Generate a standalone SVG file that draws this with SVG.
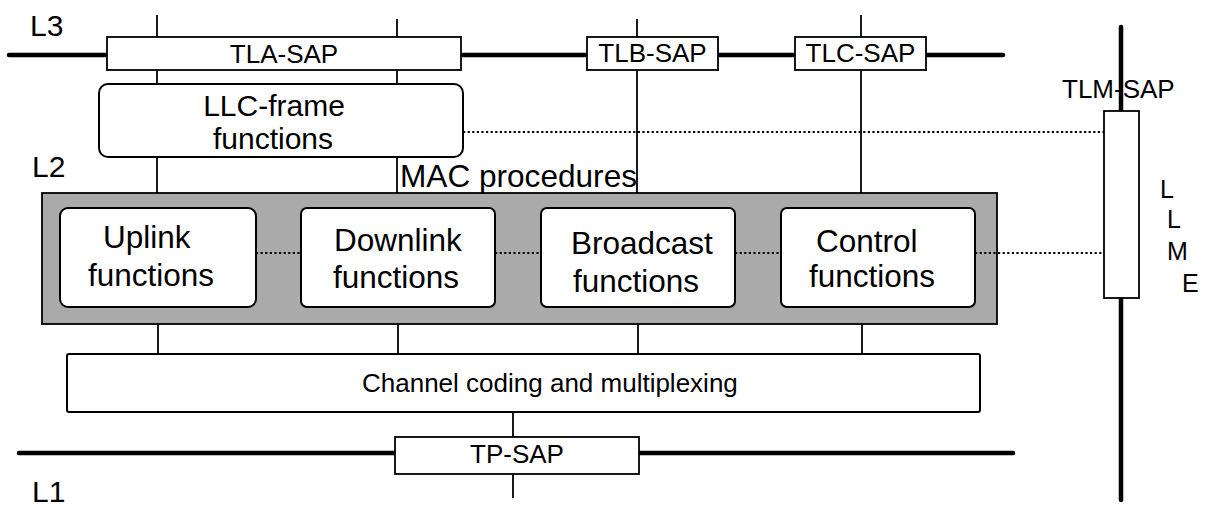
<svg xmlns="http://www.w3.org/2000/svg" width="1210" height="506" viewBox="0 0 1210 506">
<style>
text{font-family:"Liberation Sans",Arial,sans-serif;fill:#000}
.lbl{font-size:30px}
.big{font-size:31.5px}
.llc{font-size:30px;text-anchor:middle}
.sap{font-size:26px;text-anchor:middle}
.thick{stroke:#000;stroke-width:4.5;stroke-linecap:round;fill:none}
.thin{stroke:#000;stroke-width:1.8;fill:none}
.dot{stroke:#000;stroke-width:2.2;stroke-dasharray:2.2 2.4;fill:none}
.box{fill:#fff;stroke:#000;stroke-width:1.8}
.rbox{fill:#fff;stroke:#000;stroke-width:2}
</style>
<rect width="1210" height="506" fill="#fff"/>
<g id="connectors">
<line class="thin" x1="157" y1="15" x2="157" y2="208"/>
<line class="thin" x1="397" y1="19" x2="397" y2="208"/>
<line class="thin" x1="637" y1="19" x2="637" y2="208"/>
<line class="thin" x1="861" y1="15" x2="861" y2="208"/>
<line class="thin" x1="158" y1="307" x2="158" y2="354"/>
<line class="thin" x1="398" y1="307" x2="398" y2="354"/>
<line class="thin" x1="638" y1="307" x2="638" y2="354"/>
<line class="thin" x1="862" y1="307" x2="862" y2="354"/>
<line class="thin" x1="513" y1="412" x2="513" y2="498"/>
<line class="thick" x1="9" y1="55" x2="1003" y2="55"/>
<line class="thick" x1="19" y1="453" x2="1013" y2="453"/>
<line class="thick" x1="1121" y1="27" x2="1121" y2="500"/>
<line class="dot" x1="463" y1="132" x2="1104" y2="132"/>
</g>
<g id="layer-labels">
<text class="lbl" x="30" y="36">L3</text>
<text class="lbl" x="32" y="177">L2</text>
<text class="lbl" x="32" y="502">L1</text>
</g>
<g id="tla-sap"><rect class="box" x="107" y="37" width="354" height="33"/><text class="sap" x="284" y="63">TLA-SAP</text></g>
<g id="tlb-sap"><rect class="box" x="587" y="37" width="131" height="33"/><text class="sap" x="652.5" y="62">TLB-SAP</text></g>
<g id="tlc-sap"><rect class="box" x="795" y="37" width="131" height="33"/><text class="sap" x="860.5" y="62">TLC-SAP</text></g>
<g id="llc-frame"><rect class="rbox" x="99" y="84" width="364" height="73" rx="9"/><text class="llc" x="274" y="116">LLC-frame</text><text class="llc" x="273" y="149">functions</text></g>
<g id="mac">
<rect x="42" y="193" width="955" height="131" fill="#aaaaaa" stroke="#000" stroke-width="1.8"/>
<text class="big" x="400" y="187" textLength="237" lengthAdjust="spacingAndGlyphs">MAC procedures</text>
</g>
<g id="connectors-dotted">
<line class="dot" x1="256" y1="253" x2="301" y2="253"/>
<line class="dot" x1="495" y1="253" x2="541" y2="253"/>
<line class="dot" x1="735" y1="253" x2="781" y2="253"/>
<line class="dot" x1="975" y1="253" x2="1104" y2="253"/>
</g>
<g id="uplink"><rect class="rbox" x="60" y="208" width="196" height="99" rx="8"/><text class="big" x="103" y="248">Uplink</text><text class="big" x="88" y="286">functions</text></g>
<g id="downlink"><rect class="rbox" x="301" y="208" width="194" height="99" rx="6"/><text class="big" x="334" y="251">Downlink</text><text class="big" x="333" y="288">functions</text></g>
<g id="broadcast"><rect class="rbox" x="541" y="208" width="194" height="99" rx="6"/><text class="big" x="571" y="254">Broadcast</text><text class="big" x="573" y="292">functions</text></g>
<g id="control"><rect class="rbox" x="781" y="208" width="194" height="99" rx="6"/><text class="big" x="816" y="252">Control</text><text class="big" x="809" y="287">functions</text></g>
<g id="channel"><rect class="rbox" x="67" y="354" width="913" height="58" rx="2"/><text style="font-size:26px" x="362" y="392">Channel coding and multiplexing</text></g>
<g id="tp-sap"><rect class="box" x="395" y="437" width="244" height="37"/><text class="sap" x="517" y="463">TP-SAP</text></g>
<g id="tlm-sap">
<rect class="box" x="1104" y="111" width="35" height="187"/>
<text style="font-size:26px" x="1062" y="98">TLM-SAP</text>
<text style="font-size:25px" x="1160" y="198">L</text>
<text style="font-size:25px" x="1167" y="228">L</text>
<text style="font-size:25px" x="1167" y="260">M</text>
<text style="font-size:25px" x="1182" y="292">E</text>
</g>
</svg>
